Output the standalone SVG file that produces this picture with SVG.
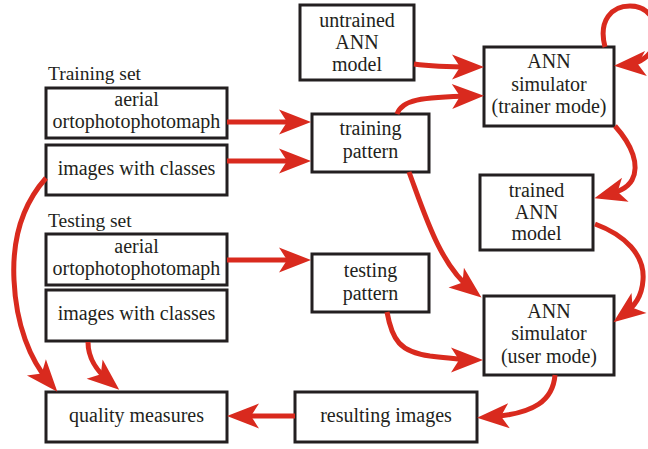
<svg xmlns="http://www.w3.org/2000/svg" width="648" height="449" viewBox="0 0 648 449">
<style>
.box{fill:#fff;stroke:#231f20;stroke-width:3}
.t{font-family:"Liberation Serif","Times New Roman",serif;font-size:20px;fill:#231f20;text-anchor:middle}
.lbl{font-family:"Liberation Serif","Times New Roman",serif;font-size:19.5px;fill:#231f20}
.c{fill:none;stroke:#d92a1e;stroke-width:5;marker-end:url(#ah)}
</style>
<defs>
<marker id="ah" markerUnits="userSpaceOnUse" orient="auto" overflow="visible" markerWidth="40" markerHeight="30" refX="0" refY="0">
<path d="M-20,-12.5 L12,0 L-20,12.5 L-12,0 Z" fill="#d92a1e"/>
</marker>
</defs>
<rect width="648" height="449" fill="#fff"/>
<text class="lbl" x="48" y="80">Training set</text>
<text class="lbl" x="48" y="227">Testing set</text>
<g id="train-aerial"><rect class="box" x="46" y="88" width="181" height="50"/><text class="t" x="136.5" y="106">aerial</text><text class="t" x="136.5" y="128">ortophotophotomaph</text></g>
<g id="train-classes"><rect class="box" x="46" y="145" width="181" height="50"/><text class="t" x="136.5" y="175">images with classes</text></g>
<g id="test-aerial"><rect class="box" x="46" y="234" width="181" height="51"/><text class="t" x="136.5" y="253">aerial</text><text class="t" x="136.5" y="275">ortophotophotomaph</text></g>
<g id="test-classes"><rect class="box" x="46" y="290" width="181" height="51"/><text class="t" x="136.5" y="320">images with classes</text></g>
<g id="quality"><rect class="box" x="46" y="392" width="181" height="50"/><text class="t" x="136.5" y="422">quality measures</text></g>
<g id="untrained"><rect class="box" x="300" y="5" width="114" height="75"/><text class="t" x="357" y="27">untrained</text><text class="t" x="357" y="49">ANN</text><text class="t" x="357" y="71">model</text></g>
<g id="training-pattern"><rect class="box" x="312" y="114" width="117" height="58"/><text class="t" x="370.5" y="135">training</text><text class="t" x="370.5" y="158">pattern</text></g>
<g id="testing-pattern"><rect class="box" x="312" y="254" width="117" height="58"/><text class="t" x="370.5" y="277">testing</text><text class="t" x="370.5" y="300">pattern</text></g>
<g id="sim-trainer"><rect class="box" x="484" y="47" width="130" height="79"/><text class="t" x="549" y="68">ANN</text><text class="t" x="549" y="91">simulator</text><text class="t" x="549" y="113">(trainer mode)</text></g>
<g id="trained"><rect class="box" x="480" y="175" width="113" height="75"/><text class="t" x="536.5" y="197">trained</text><text class="t" x="536.5" y="219">ANN</text><text class="t" x="536.5" y="240">model</text></g>
<g id="sim-user"><rect class="box" x="484" y="296" width="130" height="79"/><text class="t" x="549" y="318">ANN</text><text class="t" x="549" y="340">simulator</text><text class="t" x="549" y="363">(user mode)</text></g>
<g id="resulting"><rect class="box" x="295" y="392" width="182" height="50"/><text class="t" x="386" y="422">resulting images</text></g>
<g id="connectors">
<path class="c" d="M227,122 H299"/>
<path class="c" d="M227,161 H299"/>
<path class="c" d="M414,64 C435,67 450,67 472,67"/>
<path class="c" d="M397,114 C402,100 420,97 472,96"/>
<path class="c" d="M605,47 C598,20 612,6 630,6 C650,6 660,25 655,42 C652,55 640,64 626,65"/>
<path class="c" d="M615,126 C632,145 640,165 632,180 C627,189 617,192 606,195"/>
<path class="c" d="M595,224 C625,235 645,255 643,280 C642,296 635,306 623,315"/>
<path class="c" d="M409,172 C425,215 440,265 472,290"/>
<path class="c" d="M227,260 H299"/>
<path class="c" d="M387,312 C392,340 400,352 430,356 C450,358 460,360 471,360"/>
<path class="c" d="M555,375 C553,400 535,414 489,417"/>
<path class="c" d="M295,416 H239"/>
<path class="c" d="M46,178 C22,205 12,240 14,280 C16,325 30,360 49.5,382.6"/>
<path class="c" d="M88,342 C88,360 98,372 110,382"/>
</g>
</svg>
